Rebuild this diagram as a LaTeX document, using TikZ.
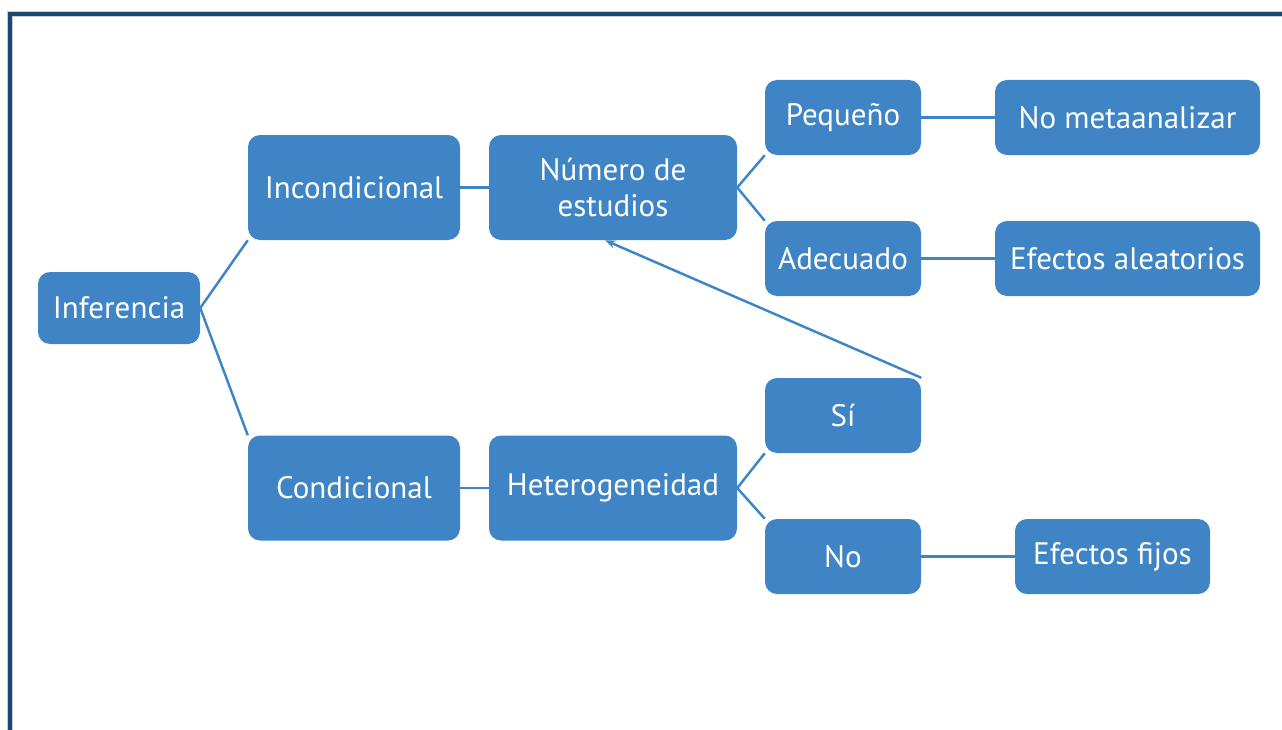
\documentclass[tikz,border=0pt]{standalone}
\usepackage{fontspec}
\setmainfont{PT Sans}
\usepackage{tikz}
\usetikzlibrary{arrows.meta,positioning,calc}
\definecolor{boxblue}{RGB}{63,133,198}
\definecolor{framblue}{RGB}{24,72,118}

\begin{document}
\begin{tikzpicture}[x=0.03cm,y=-0.03cm,>={Stealth[length=9pt,width=7pt]},
  font=\fontsize{26.5}{31}\selectfont,
  bx/.style={draw=none,fill=boxblue,rounded corners=12*0.03cm,text=white,align=center,inner sep=0pt},
  wide/.style={bx,minimum width=212*0.03cm,minimum height=105*0.03cm},
  small/.style={bx,minimum width=156*0.03cm,minimum height=75*0.03cm},
  lnk/.style={boxblue,line width=2.1pt}]

  \useasboundingbox (0,0) rectangle (1282,730);
  % frame (left and top edges only)
  \draw[black!20,line width=4.5pt] (10,731) -- (10,14) -- (1283,14);
  \draw[framblue,line width=2.6pt] (10,731) -- (10,14) -- (1283,14);

  % first level
  \node[bx,minimum width=162*0.03cm,minimum height=72*0.03cm] (infer) at (119,308) {Inferencia};
  \node[wide] (incond) at (354,187.5) {Incondicional};
  \node[wide] (cond) at (354,488) {Condicional};
  \node[wide,minimum width=248*0.03cm] (numero) at (613,187.5) {Número de\\estudios};
  \node[wide,minimum width=248*0.03cm] (hetero) at (613,488) {Heterogeneidad};

  % second level
  \node[small] (peq) at (843,117.5) {Pequeño};
  \node[small] (adec) at (843,258.5) {Adecuado};
  \node[small] (si) at (843,415.5) {Sí};
  \node[small] (no) at (843,556.5) {No};

  % results
  \node[small,minimum width=265*0.03cm] (nometa) at (1127.5,117.5) {No metaanalizar};
  \node[small,minimum width=265*0.03cm] (aleat) at (1127.5,258.5) {Efectos aleatorios};
  \node[small,minimum width=195*0.03cm] (fijos) at (1112.5,556.5) {Efectos fijos};

  % connectors
  \draw[lnk] (infer.east) -- (incond.south west);
  \draw[lnk] (infer.east) -- (cond.north west);
  \draw[lnk] (incond) -- (numero);
  \draw[lnk] (cond) -- (hetero);
  \draw[lnk] (numero.east) -- (peq.south west);
  \draw[lnk] (numero.east) -- (adec.north west);
  \draw[lnk] (hetero.east) -- (si.south west);
  \draw[lnk] (hetero.east) -- (no.north west);
  \draw[lnk] (peq) -- (nometa);
  \draw[lnk] (adec) -- (aleat);
  \draw[lnk] (no) -- (fijos);
  \draw[lnk,->] (si.north east) -- ($(numero.south)+(-8,0)$);
\end{tikzpicture}
\end{document}
